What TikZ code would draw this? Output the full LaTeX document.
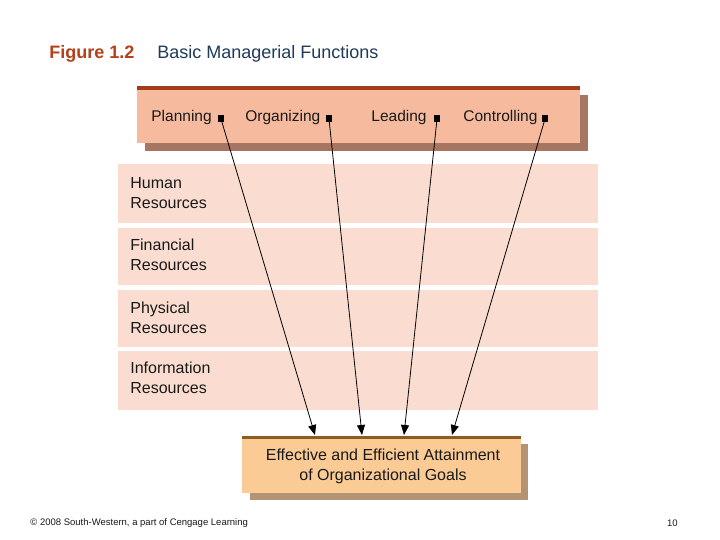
\documentclass[tikz,border=0pt]{standalone}
\usepackage{fontspec}
\setmainfont{Liberation Sans}
\usetikzlibrary{calc,arrows.meta,positioning}
\definecolor{figred}{HTML}{B5401A}
\definecolor{titlenavy}{HTML}{1F3A5A}
\definecolor{funcfill}{HTML}{F6BB9E}
\definecolor{funcline}{HTML}{A33B1C}
\definecolor{funcshadow}{HTML}{A67663}
\definecolor{resfill}{HTML}{FADDD0}
\definecolor{goalfill}{HTML}{FBCB95}
\definecolor{goalline}{HTML}{8C5C22}
\definecolor{goalshadow}{HTML}{B39472}
\tikzset{
	% ------- every something
	every path/.style={
		line width=0.8pt,
	},
	every node/.style={
		font=\fontsize{16}{20}\selectfont,
		inner sep=0pt,
		text=black!90,
	},
	% ------- custom
	vector/.style={
		-{Triangle[length=10pt,width=8pt]},
	},
	func label/.style={
		anchor=base west,
		font=\fontsize{15.5}{20}\selectfont,
	},
	res label/.style={
		anchor=north west, align=left,
	},
	func mark/.style={
		fill=black, minimum width=6pt, minimum height=7pt,
	},
	footer/.style={
		font=\fontsize{9.5}{11}\selectfont,
	},
}

\begin{document}
\begin{tikzpicture}[x=1pt,y=-1pt]

% canvas %{{{1

	\useasboundingbox[fill=white] (0,0) rectangle (720,540);

% heading %{{{1

	\node[anchor=base west, font=\fontsize{18}{22}\selectfont\bfseries, text=figred]
		(fig) at (49,59) {Figure 1.2};
	\node[anchor=base west, font=\fontsize{18}{22}\selectfont, text=titlenavy]
		(title) at (157,59) {Basic Managerial Functions};

% functions box %{{{1

	\fill[funcshadow] (145,95) rectangle (588,151);
	\fill[funcfill] (137,87) rectangle (580,143);
	\fill[funcline] (137,86) rectangle (580,90);

	\node[func label] (plan) at (151,122) {Planning};
	\node[func label] (org)  at (245,122) {Organizing};
	\node[func label] (lead) at (371,122) {Leading};
	\node[func label] (ctrl) at (463,122) {Controlling};

	\node[func mark] (plan-m) at (221,119) {};
	\node[func mark] (org-m)  at (329,119) {};
	\node[func mark] (lead-m) at (437,119) {};
	\node[func mark] (ctrl-m) at (545,119) {};

% resources bands %{{{1

	\fill[resfill] (118,164) rectangle (598,223);
	\fill[resfill] (118,228) rectangle (598,285);
	\fill[resfill] (118,290) rectangle (598,347);
	\fill[resfill] (118,351) rectangle (598,410);

	\node[res label] (human) at (130,177) {Human\\Resources};
	\node[res label] (fin)   at (130,239) {Financial\\Resources};
	\node[res label] (phys)  at (130,302) {Physical\\Resources};
	\node[res label] (info)  at (130,362) {Information\\Resources};

% goal box %{{{1

	\fill[goalshadow] (250,444) rectangle (528,500);
	\fill[goalfill] (242,437) rectangle (521,493);
	\fill[goalline] (242,436) rectangle (521,439);

	\node[align=center, anchor=north] (goal) at (383,449)
		{Effective and Efficient Attainment\\of Organizational Goals};

	\coordinate (g1) at (315,435);
	\coordinate (g2) at (362,435);
	\coordinate (g3) at (404,435);
	\coordinate (g4) at (452,435);

% arrows %{{{1

	\draw[vector] (plan-m.center) -- (g1);
	\draw[vector] (org-m.center)  -- (g2);
	\draw[vector] (lead-m.center) -- (g3);
	\draw[vector] (ctrl-m.center) -- (g4);

% footer %{{{1

	\node[footer, anchor=west] (copy) at (30,523)
		{© 2008 South-Western, a part of Cengage Learning};
	\node[footer, anchor=east] (page) at (678,523) {10};

% closing %{{{1

\end{tikzpicture}
\end{document}
